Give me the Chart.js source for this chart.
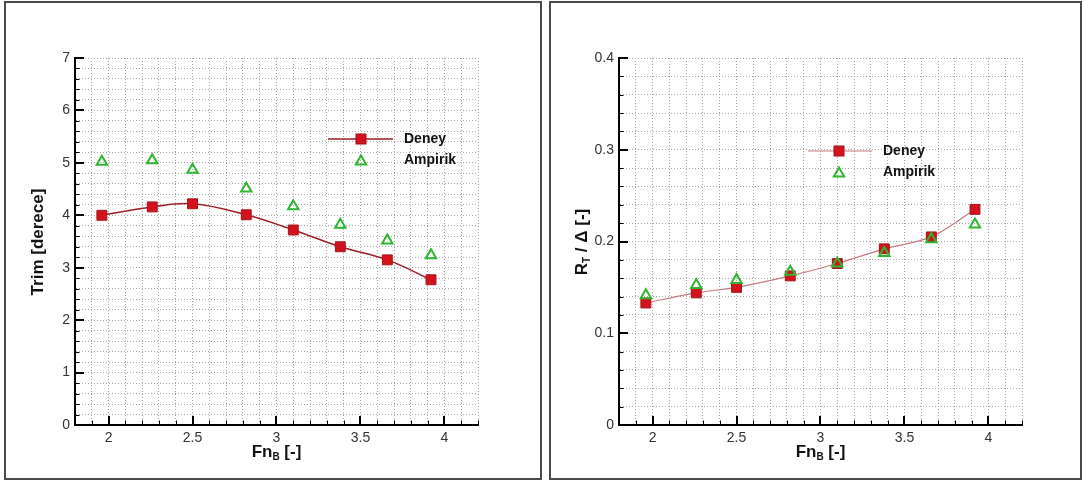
<!DOCTYPE html>
<html>
<head>
<meta charset="utf-8">
<script src="https://cdn.jsdelivr.net/npm/chart.js@4/dist/chart.umd.min.js"></script>
<style>
  html, body { margin: 0; padding: 0; background: #fff; }
  body { width: 1083px; height: 481px; position: relative; overflow: hidden; }
  .panel { position: absolute; box-sizing: border-box; border: 2px solid #4a4a4a; }
  canvas { position: absolute; top: 0; }
</style>
</head>
<body>
<div class="panel" style="left:4px;top:1px;width:538px;height:479px"></div>
<div class="panel" style="left:549px;top:1px;width:533px;height:479px"></div>
<canvas id="trimChart" width="541" height="481" style="left:0"></canvas>
<canvas id="rtChart" width="541" height="481" style="left:544px"></canvas>
<script>
// Froude number based on beam
const fnB = [1.96, 2.26, 2.50, 2.82, 3.10, 3.38, 3.66, 3.92];

// Trim angle [deg]
const trimDeney   = [4.00, 4.16, 4.22, 4.01, 3.72, 3.40, 3.15, 2.77];
const trimAmpirik = [5.02, 5.05, 4.87, 4.51, 4.17, 3.82, 3.52, 3.24];

// Resistance to displacement ratio
const rtDeney   = [0.133, 0.144, 0.150, 0.1625, 0.176, 0.192, 0.205, 0.235];
const rtAmpirik = [0.1415, 0.1525, 0.158, 0.167, 0.176, 0.1875, 0.2025, 0.2185];

// Labelled tick values
const fnTickLabels   = ['2', '2.5', '3', '3.5', '4'];
const trimTickLabels = ['0', '1', '2', '3', '4', '5', '6', '7'];
const rtTickLabels   = ['0', '0.1', '0.2', '0.3', '0.4'];

const FONT = "'Liberation Sans', Arial, sans-serif";
const RED = '#d3121b';
const RED_EDGE = '#a3141a';
const GREEN = '#2fb52f';

function labelFor(list) {
  return function (value) {
    const hit = list.find(l => Math.abs(parseFloat(l) - value) < 1e-6);
    return hit === undefined ? '' : hit;
  };
}

function isMajor(value, step) {
  const r = value / step;
  return Math.abs(r - Math.round(r)) < 1e-6;
}

// Draws a label with optional subscript pieces, centred on (cx, cy)
function drawRich(ctx, parts, cx, cy, rotate) {
  const mainFont = 'bold 17px ' + FONT;
  const subFont = 'bold 10px ' + FONT;
  let total = 0;
  parts.forEach(p => { ctx.font = p.sub ? subFont : mainFont; p.w = ctx.measureText(p.t).width; total += p.w; });
  ctx.save();
  ctx.translate(cx, cy);
  if (rotate) ctx.rotate(-Math.PI / 2);
  ctx.fillStyle = '#111';
  ctx.textBaseline = 'middle';
  ctx.textAlign = 'left';
  let x = -total / 2;
  parts.forEach(p => {
    ctx.font = p.sub ? subFont : mainFont;
    ctx.fillText(p.t, x, p.sub ? 5 : 0);
    x += p.w;
  });
  ctx.restore();
}

function drawSquare(ctx, x, y) {
  ctx.save();
  ctx.fillStyle = RED;
  ctx.strokeStyle = RED_EDGE;
  ctx.lineWidth = 1;
  ctx.fillRect(x - 5, y - 5, 10, 10);
  ctx.strokeRect(x - 5, y - 5, 10, 10);
  ctx.restore();
}

function drawTriangle(ctx, x, y, r) {
  ctx.save();
  ctx.strokeStyle = GREEN;
  ctx.lineWidth = 2;
  ctx.beginPath();
  for (let i = 0; i < 3; i++) {
    const a = i * 2 * Math.PI / 3;
    const px = x + Math.sin(a) * r, py = y - Math.cos(a) * r;
    if (i === 0) ctx.moveTo(px, py); else ctx.lineTo(px, py);
  }
  ctx.closePath();
  ctx.stroke();
  ctx.restore();
}

// Inward tick marks, axis titles and the in-plot legend
const decor = {
  id: 'decor',
  beforeDatasetsDraw(chart, args, o) {
    const ctx = chart.ctx, a = chart.chartArea;
    const xs = chart.scales.x, ys = chart.scales.y;
    ctx.save();
    ctx.strokeStyle = '#000';
    xs.ticks.forEach(t => {
      const major = isMajor(t.value, o.xMajor);
      const px = Math.round(xs.getPixelForValue(t.value)) + (major ? 0 : 0.5);
      ctx.lineWidth = major ? 2 : 1;
      ctx.beginPath();
      ctx.moveTo(px, a.bottom);
      ctx.lineTo(px, a.bottom - (major ? 9 : 4.5));
      ctx.stroke();
    });
    ys.ticks.forEach(t => {
      const major = isMajor(t.value, o.yMajor);
      const py = Math.round(ys.getPixelForValue(t.value)) + (major ? 0 : 0.5);
      ctx.lineWidth = major ? 2 : 1;
      ctx.beginPath();
      ctx.moveTo(a.left, py);
      ctx.lineTo(a.left + (major ? 9 : 4.5), py);
      ctx.stroke();
    });
    ctx.restore();
  },
  afterDraw(chart, args, o) {
    const ctx = chart.ctx, a = chart.chartArea;
    drawRich(ctx, o.xTitle, (a.left + a.right) / 2, 452, false);
    drawRich(ctx, o.yTitle, 38, 242, true);

    const L = o.legend;
    ctx.save();
    ctx.strokeStyle = o.lineColor;
    ctx.lineWidth = o.lineWidth;
    ctx.beginPath();
    ctx.moveTo(L.x0, L.y1);
    ctx.lineTo(L.x1, L.y1);
    ctx.stroke();
    ctx.restore();
    drawSquare(ctx, L.mx, L.y1);
    drawTriangle(ctx, L.mx, L.y2 + 1.5, 6);
    ctx.save();
    ctx.fillStyle = '#111';
    ctx.font = 'bold 14px ' + FONT;
    ctx.textBaseline = 'middle';
    ctx.textAlign = 'left';
    ctx.fillText('Deney', L.tx, L.y1);
    ctx.fillText('Ampirik', L.tx, L.y2);
    ctx.restore();
  }
};

function makeChart(id, s) {
  return new Chart(document.getElementById(id), {
    type: 'line',
    data: {
      datasets: [
        {
          label: 'Deney',
          data: fnB.map((x, i) => ({ x: x, y: s.deney[i] })),
          borderColor: s.lineColor,
          borderWidth: s.lineWidth,
          tension: s.tension,
          pointStyle: 'rect',
          pointRadius: 7,
          pointBackgroundColor: RED,
          pointBorderColor: RED_EDGE,
          pointBorderWidth: 1,
          order: 2
        },
        {
          label: 'Ampirik',
          data: fnB.map((x, i) => ({ x: x, y: s.ampirik[i] })),
          showLine: false,
          pointStyle: 'triangle',
          pointRadius: 6,
          pointBackgroundColor: 'rgba(0,0,0,0)',
          pointBorderColor: GREEN,
          pointBorderWidth: 2,
          order: 1
        }
      ]
    },
    options: {
      responsive: false,
      animation: false,
      devicePixelRatio: 1,
      layout: { padding: { left: 0, right: 63, top: 58, bottom: 0 } },
      plugins: {
        legend: { display: false },
        tooltip: { enabled: false },
        decor: {
          xMajor: 0.5,
          yMajor: s.yMajor,
          xTitle: [{ t: 'Fn' }, { t: 'B', sub: true }, { t: ' [-]' }],
          yTitle: s.yTitle,
          legend: s.legend,
          lineColor: s.lineColor,
          lineWidth: s.lineWidth
        }
      },
      scales: {
        x: {
          type: 'linear',
          min: 1.8,
          max: 4.2,
          afterFit(scale) { scale.height = 56; },
          ticks: {
            stepSize: 0.1,
            autoSkip: false,
            maxRotation: 0,
            padding: 5,
            color: '#333',
            font: { family: FONT, size: 14 },
            callback: labelFor(fnTickLabels)
          },
          grid: { color: '#a6a6a6', lineWidth: 1, drawTicks: false },
          border: { display: true, color: '#000', width: 2, dash: [1, 2] }
        },
        y: {
          type: 'linear',
          min: s.yMin,
          max: s.yMax,
          afterFit(scale) { scale.width = 75; },
          ticks: {
            stepSize: s.yStep,
            autoSkip: false,
            padding: 5,
            color: '#333',
            font: { family: FONT, size: 14 },
            callback: labelFor(s.yLabels)
          },
          grid: { color: '#a6a6a6', lineWidth: 1, drawTicks: false },
          border: { display: true, color: '#000', width: 2, dash: [1, 2] }
        }
      }
    },
    plugins: [decor]
  });
}

makeChart('trimChart', {
  deney: trimDeney,
  ampirik: trimAmpirik,
  yMin: 0, yMax: 7, yStep: 0.2, yMajor: 1,
  yLabels: trimTickLabels,
  yTitle: [{ t: 'Trim [derece]' }],
  lineColor: '#9c1d24',
  lineWidth: 1.5,
  tension: 0.4,
  legend: { x0: 328, x1: 393, mx: 361, tx: 404, y1: 139, y2: 160 }
});

makeChart('rtChart', {
  deney: rtDeney,
  ampirik: rtAmpirik,
  yMin: 0, yMax: 0.4, yStep: 0.02, yMajor: 0.1,
  yLabels: rtTickLabels,
  yTitle: [{ t: 'R' }, { t: 'T', sub: true }, { t: ' / \u0394 [-]' }],
  lineColor: '#c97a7e',
  lineWidth: 1.2,
  tension: 0.3,
  legend: { x0: 264, x1: 328, mx: 295, tx: 339, y1: 151, y2: 172 }
});
</script>
</body>
</html>
